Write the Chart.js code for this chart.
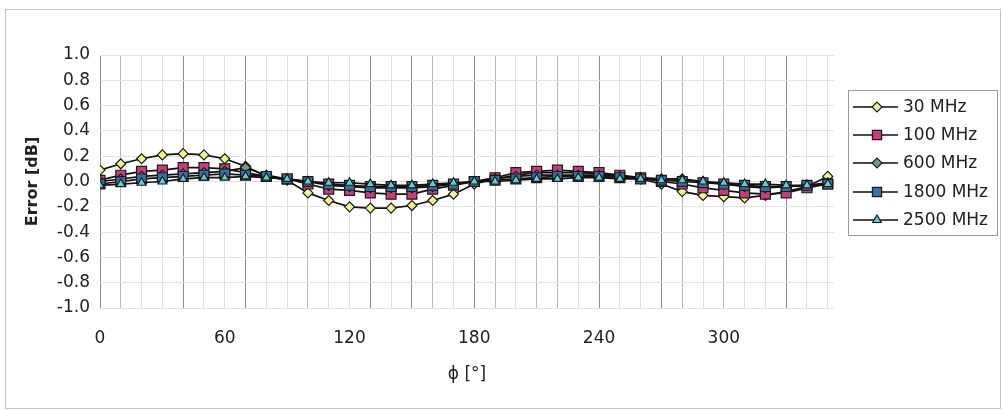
<!DOCTYPE html>
<html>
<head>
<meta charset="utf-8">
<title>Error vs angle</title>
<script src="https://cdn.jsdelivr.net/npm/chart.js@4.4.1/dist/chart.umd.min.js"></script>
<style>
  html, body { margin: 0; padding: 0; background: #ffffff; }
  #wrap { position: relative; width: 1003px; height: 411px; }
</style>
</head>
<body>
<div id="wrap"><canvas id="errChart"></canvas></div>
<script>
// angle phi in degrees (one point every 10 deg)
const angles = [0, 10, 20, 30, 40, 50, 60, 70, 80, 90, 100, 110, 120, 130, 140, 150, 160, 170,
                180, 190, 200, 210, 220, 230, 240, 250, 260, 270, 280, 290, 300, 310, 320, 330, 340, 350];

// error in dB
const err30 = [0.09, 0.14, 0.18, 0.21, 0.22, 0.21, 0.18, 0.12, 0.04, 0.01, -0.09, -0.15, -0.20, -0.21, -0.21, -0.19, -0.15, -0.10,
               -0.02, 0.02, 0.05, 0.07, 0.07, 0.07, 0.06, 0.04, 0.02, -0.02, -0.08, -0.11, -0.12, -0.13, -0.11, -0.08, -0.04, 0.04];
const err100 = [0.01, 0.05, 0.08, 0.09, 0.11, 0.11, 0.10, 0.07, 0.04, 0.02, -0.02, -0.06, -0.07, -0.09, -0.10, -0.10, -0.06, -0.03,
                0.00, 0.03, 0.07, 0.08, 0.09, 0.08, 0.07, 0.05, 0.03, 0.00, -0.02, -0.05, -0.07, -0.09, -0.10, -0.09, -0.05, -0.02];
const err600 = [0.00, 0.02, 0.04, 0.05, 0.06, 0.07, 0.08, 0.11, 0.05, 0.02, 0.00, -0.03, -0.04, -0.05, -0.05, -0.05, -0.04, -0.02,
                0.00, 0.02, 0.04, 0.05, 0.05, 0.05, 0.05, 0.04, 0.03, 0.02, 0.02, 0.00, -0.02, -0.04, -0.05, -0.04, -0.03, -0.01];
const err1800 = [-0.02, 0.00, 0.02, 0.03, 0.04, 0.05, 0.06, 0.05, 0.04, 0.02, 0.00, -0.02, -0.03, -0.04, -0.04, -0.04, -0.03, -0.02,
                 0.00, 0.01, 0.02, 0.03, 0.04, 0.04, 0.04, 0.03, 0.02, 0.01, 0.00, -0.01, -0.02, -0.03, -0.04, -0.04, -0.03, -0.02];
const err2500 = [-0.03, -0.02, -0.01, 0.00, 0.02, 0.03, 0.03, 0.04, 0.03, 0.02, 0.00, -0.01, -0.01, -0.02, -0.03, -0.03, -0.02, -0.01,
                 0.00, 0.00, 0.01, 0.02, 0.02, 0.03, 0.03, 0.02, 0.02, 0.01, 0.01, 0.00, -0.01, -0.02, -0.02, -0.03, -0.03, -0.02];

const seriesLabels = ['30 MHz', '100 MHz', '600 MHz', '1800 MHz', '2500 MHz'];
const seriesValues = [err30, err100, err600, err1800, err2500];

// axis ticks
const xTicks = angles;
const xLabelStep = 60;
const yTicks = [-1.0, -0.8, -0.6, -0.4, -0.2, 0.0, 0.2, 0.4, 0.6, 0.8, 1.0];

// look of each series (marker fill, shape, size)
const markerFill = ['#f2f28c', '#cc3a7c', '#6f9a8c', '#3470a8', '#5fcfcf'];
const markerShape = ['rectRot', 'rect', 'rectRot', 'rect', 'triangle'];
const markerSize = [5, 7, 5, 7, 5];
const legendMarkerSize = [5, 6.5, 5, 6.5, 5];

// the scanned original has some darker vertical grid lines
const darkGrid = [0, 40, 70, 130, 150, 180, 240, 270, 330];
const midGrid = [10, 100, 160, 190, 210, 220, 280, 300];

const FONT = "'DejaVu Sans', 'Liberation Sans', Arial, sans-serif";

function toPoints(values) {
    return angles.map(function(a, i) { return { x: a, y: values[i] }; });
}

const datasets = seriesLabels.map(function(label, i) {
    return {
        label: label,
        data: toPoints(seriesValues[i]),
        borderColor: '#111111',
        borderWidth: 1.7,
        pointStyle: markerShape[i],
        pointRadius: markerSize[i],
        pointHoverRadius: markerSize[i],
        pointBackgroundColor: markerFill[i],
        pointBorderColor: '#1a1a1a',
        pointBorderWidth: 1.2,
        tension: 0,
        fill: false,
        order: seriesLabels.length - i   // later series on top, like the original
    };
});

// white page + thin frame round the whole chart
const framePlugin = {
    id: 'frame',
    beforeDraw(chart) {
        const ctx = chart.ctx;
        ctx.save();
        ctx.fillStyle = '#ffffff';
        ctx.fillRect(0, 0, chart.width, chart.height);
        ctx.strokeStyle = '#c4c4c4';
        ctx.lineWidth = 1;
        ctx.strokeRect(5.5, 9.5, 995, 399);
        ctx.restore();
    }
};

// Excel-like legend: line sample with marker in the middle, boxed
const boxLegendPlugin = {
    id: 'boxLegend',
    afterDraw(chart) {
        const ctx = chart.ctx;
        const left = 848, top = 90, width = 149, height = 145;
        const rowY = [107, 135, 163, 192, 220];
        ctx.save();
        ctx.fillStyle = '#ffffff';
        ctx.fillRect(left, top, width, height);
        ctx.strokeStyle = '#9a9a9a';
        ctx.lineWidth = 1;
        ctx.strokeRect(left + 0.5, top + 0.5, width, height);

        chart.data.datasets.forEach(function(ds, i) {
            const y = rowY[i];
            ctx.strokeStyle = '#111111';
            ctx.lineWidth = 1.7;
            ctx.beginPath();
            ctx.moveTo(853, y);
            ctx.lineTo(898, y);
            ctx.stroke();

            ctx.fillStyle = ds.pointBackgroundColor;
            ctx.strokeStyle = ds.pointBorderColor;
            ctx.lineWidth = 1.2;
            Chart.helpers.drawPoint(ctx, {
                pointStyle: ds.pointStyle,
                radius: legendMarkerSize[i],
                rotation: 0,
                borderWidth: 1.2
            }, 877, y);

            ctx.fillStyle = '#222222';
            ctx.font = '17px ' + FONT;
            ctx.textAlign = 'left';
            ctx.textBaseline = 'middle';
            ctx.fillText(ds.label, 903, y + 1);
        });
        ctx.restore();
    }
};

new Chart(document.getElementById('errChart'), {
    type: 'line',
    data: { datasets: datasets },
    options: {
        responsive: true,
        maintainAspectRatio: false,
        animation: false,
        layout: { padding: { left: 0, right: 169, top: 55, bottom: 0 } },
        plugins: {
            legend: { display: false },
            tooltip: { enabled: false }
        },
        scales: {
            x: {
                type: 'linear',
                min: 0,
                max: 353,
                afterBuildTicks: function(axis) {
                    axis.ticks = xTicks.map(function(v) { return { value: v }; });
                },
                afterFit: function(axis) { axis.height = 103; },
                ticks: {
                    autoSkip: false,
                    maxRotation: 0,
                    padding: 20,
                    color: '#222222',
                    font: { family: FONT, size: 17 },
                    callback: function(v) { return v % xLabelStep === 0 ? String(v) : ''; }
                },
                grid: {
                    drawTicks: false,
                    lineWidth: 1,
                    color: function(c) {
                        const v = c.tick ? c.tick.value : null;
                        if (darkGrid.indexOf(v) >= 0) return '#8c8c8c';
                        if (midGrid.indexOf(v) >= 0) return '#b8b8b8';
                        return '#e0e0e0';
                    }
                },
                border: { display: false },
                title: {
                    display: true,
                    text: 'ϕ [°]',
                    color: '#222222',
                    font: { family: FONT, size: 17 },
                    padding: { top: 0, bottom: 26 }
                }
            },
            y: {
                type: 'linear',
                min: -1,
                max: 1,
                afterBuildTicks: function(axis) {
                    axis.ticks = yTicks.map(function(v) { return { value: v }; });
                },
                afterFit: function(axis) { axis.width = 100; },
                ticks: {
                    padding: 10,
                    color: '#222222',
                    font: { family: FONT, size: 17 },
                    callback: function(v) { return Math.abs(v) < 1e-9 ? '0.0' : v.toFixed(1); }
                },
                grid: {
                    drawTicks: false,
                    color: '#e2e2e2',
                    lineWidth: 1
                },
                border: { display: false },
                title: {
                    display: true,
                    text: 'Error [dB]',
                    color: '#222222',
                    font: { family: FONT, size: 16, weight: 'bold' },
                    padding: { top: 23, bottom: 0 }
                }
            }
        }
    },
    plugins: [framePlugin, boxLegendPlugin]
});
</script>
</body>
</html>
